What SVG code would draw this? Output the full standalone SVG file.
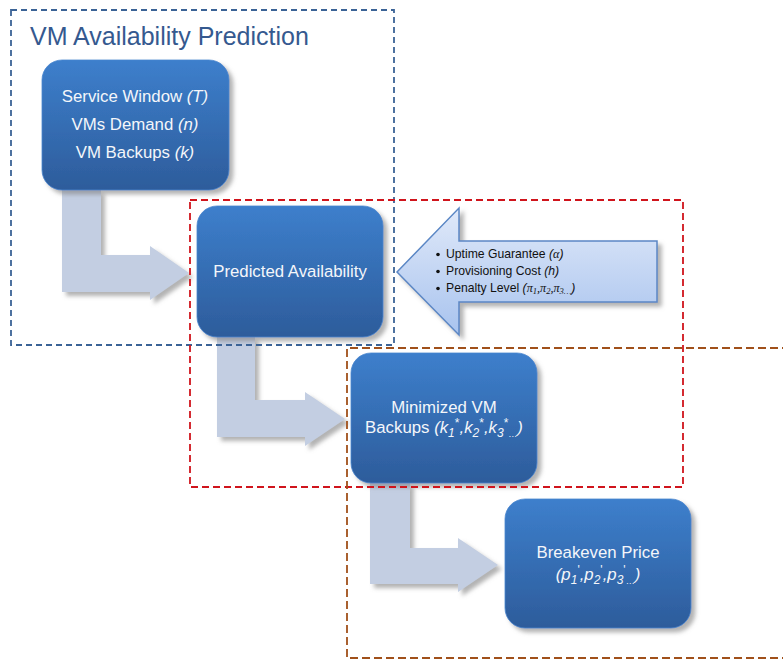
<svg xmlns="http://www.w3.org/2000/svg" width="783" height="660" viewBox="0 0 783 660">
<defs>
<linearGradient id="nodeGrad" x1="0" y1="0" x2="0" y2="1">
<stop offset="0" stop-color="#3D7FCC"/>
<stop offset="1" stop-color="#2D5C9B"/>
</linearGradient>
<linearGradient id="inGrad" x1="0" y1="0" x2="0" y2="1">
<stop offset="0" stop-color="#E0E9F9"/>
<stop offset="1" stop-color="#A8C3EE"/>
</linearGradient>
<filter id="shadow" x="-10%" y="-10%" width="130%" height="130%">
<feGaussianBlur in="SourceAlpha" stdDeviation="2"/>
<feOffset dx="4" dy="4" result="b"/>
<feFlood flood-color="#808080" flood-opacity="0.6"/>
<feComposite in2="b" operator="in"/>
<feMerge><feMergeNode/><feMergeNode in="SourceGraphic"/></feMerge>
</filter>
</defs>
<style>
.node rect{fill:url(#nodeGrad);stroke:#4A86CF;stroke-width:0.8;filter:url(#shadow)}
.node text{font-family:"Liberation Sans",Arial,sans-serif;font-size:16.8px;fill:#F4F6FA;text-anchor:middle}
.it{font-style:italic}
.flow{fill:#C3CEE2;filter:url(#shadow)}
.box{fill:none;stroke-width:1.8}
.in text{font-family:"Liberation Sans",Arial,sans-serif;font-size:12.2px;fill:#111}
.math{font-family:"Liberation Serif","Times New Roman",serif;font-style:italic}
</style>
<g id="connectors">
<polygon class="flow" points="62,190 101,190 101,255 150,255 150,246 189,273 150,300 150,292 62,292"/>
<polygon class="flow" points="217,337 255,337 255,400 305,400 305,392 345,419 305,446 305,437 217,437"/>
<polygon class="flow" points="370,483 410,483 410,548 458,548 458,538 498,565 458,592 458,584 370,584"/>
</g>
<g id="input-arrow" class="in">
<polygon points="397,272 459,208 459,241 657,241 657,302 459,302 459,335" fill="url(#inGrad)" stroke="#5B87C5" stroke-width="1.5" filter="url(#shadow)"/>
<circle cx="438" cy="254.5" r="1.8" fill="#111"/>
<circle cx="438" cy="271.5" r="1.8" fill="#111"/>
<circle cx="438" cy="288.5" r="1.8" fill="#111"/>
<text x="446" y="258">Uptime Guarantee <tspan class="it">(</tspan><tspan class="math">α</tspan><tspan class="it">)</tspan></text>
<text x="446" y="275">Provisioning Cost <tspan class="it">(h)</tspan></text>
<text x="446" y="292">Penalty Level <tspan class="it">(</tspan><tspan class="math">π</tspan><tspan class="math" font-size="8.5" dy="2">1</tspan><tspan class="math" dy="-2">,π</tspan><tspan class="math" font-size="8.5" dy="2">2</tspan><tspan class="math" dy="-2">,π</tspan><tspan class="math" font-size="8.5" dy="2">3…</tspan><tspan class="it" dy="-2">)</tspan></text>
</g>
<g id="node-inputs" class="node">
<rect x="42" y="60" width="187" height="130" rx="20"/>
<text x="135" y="102">Service Window <tspan class="it">(T)</tspan></text>
<text x="135" y="130">VMs Demand <tspan class="it">(n)</tspan></text>
<text x="135" y="158">VM Backups <tspan class="it">(k)</tspan></text>
</g>
<g id="node-predicted" class="node">
<rect x="197" y="206" width="186" height="131" rx="20"/>
<text x="290" y="277">Predicted Availability</text>
</g>
<g id="node-minimized" class="node">
<rect x="351" y="353" width="186" height="130" rx="20"/>
<text x="444" y="413">Minimized VM</text>
<text x="444" y="433">Backups <tspan class="it">(k</tspan><tspan class="it" font-size="12" dy="4">1</tspan><tspan font-size="12" dy="-10">*</tspan><tspan class="it" dy="6">,k</tspan><tspan class="it" font-size="12" dy="4">2</tspan><tspan font-size="12" dy="-10">*</tspan><tspan class="it" dy="6">,k</tspan><tspan class="it" font-size="12" dy="4">3</tspan><tspan font-size="12" dy="-10">*</tspan><tspan font-size="9" dy="10">…</tspan><tspan class="it" dy="-4">)</tspan></text>
</g>
<g id="node-breakeven" class="node">
<rect x="505" y="499" width="186" height="129" rx="20"/>
<text x="598" y="558">Breakeven Price</text>
<text x="598" y="580"><tspan class="it">(p</tspan><tspan class="it" font-size="12" dy="4">1</tspan><tspan font-size="12" dy="-10">'</tspan><tspan class="it" dy="6">,p</tspan><tspan class="it" font-size="12" dy="4">2</tspan><tspan font-size="12" dy="-10">'</tspan><tspan class="it" dy="6">,p</tspan><tspan class="it" font-size="12" dy="4">3</tspan><tspan font-size="12" dy="-10">'</tspan><tspan font-size="9" dy="10">…</tspan><tspan class="it" dy="-4">)</tspan></text>
</g>
<g id="groups">
<rect class="box" x="11" y="10" width="383" height="335" stroke="#3B6396" stroke-dasharray="6 4"/>
<text x="30" y="45" font-family="Liberation Sans, Arial, sans-serif" font-size="25" fill="#35598F">VM Availability Prediction</text>
<rect class="box" x="190" y="200" width="493" height="287" stroke="#D0141C" stroke-dasharray="7 4"/>
<path class="box" d="M790,348 H347 V658 H790" stroke="#A0501A" stroke-dasharray="8 4"/>
</g>
</svg>
